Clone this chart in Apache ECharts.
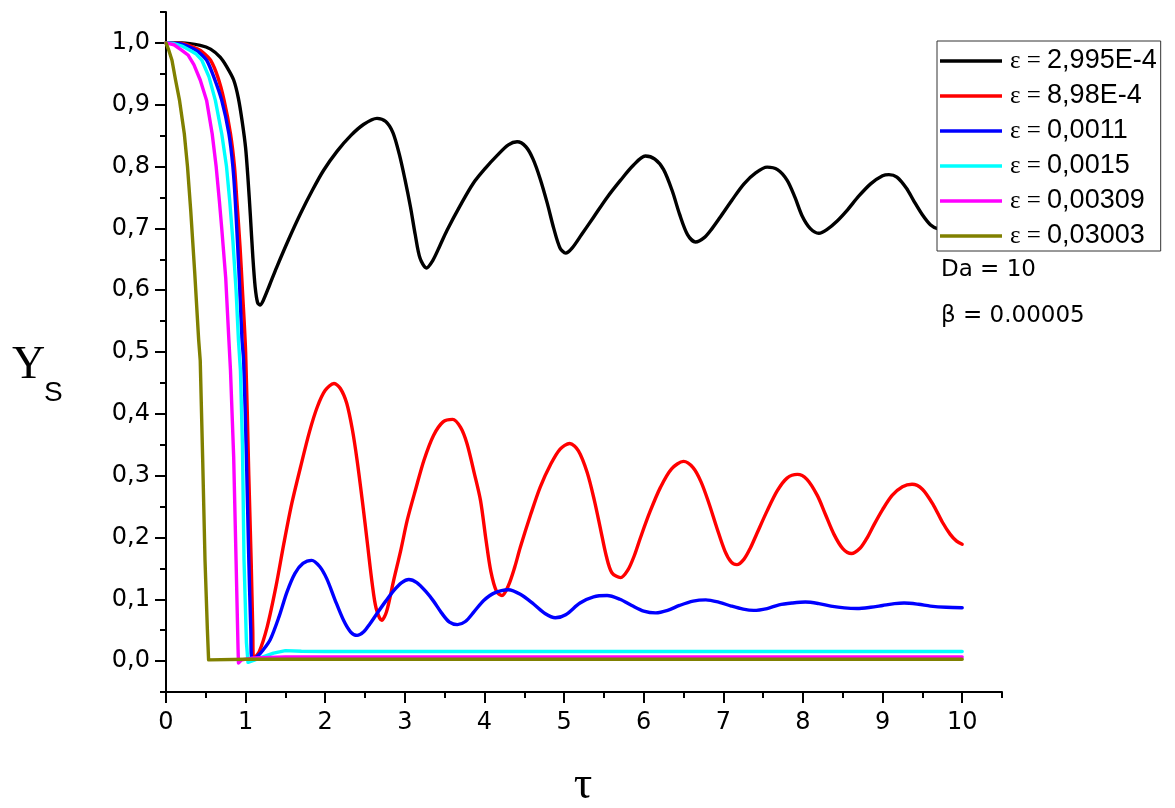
<!DOCTYPE html>
<html>
<head>
<meta charset="utf-8">
<script src="https://cdn.jsdelivr.net/npm/echarts@6/dist/echarts.min.js"></script>
<style>html,body{margin:0;padding:0;background:#fff}#c{width:1175px;height:808px}</style>
</head>
<body>
<div id="c"></div>
<script>
// ---- data ----
const xTicks = [0,1,2,3,4,5,6,7,8,9,10];
const xMinorTicks = [0.5,1.5,2.5,3.5,4.5,5.5,6.5,7.5,8.5,9.5,10.5];
const yTicks = [0,0.1,0.2,0.3,0.4,0.5,0.6,0.7,0.8,0.9,1.0];
const yMinorTicks = [-0.05,0.05,0.15,0.25,0.35,0.45,0.55,0.65,0.75,0.85,0.95,1.05];

const seriesNames = ['2,995E-4','8,98E-4','0,0011','0,0015','0,00309','0,03003'];
const seriesColors = ['#000000','#ff0000','#0000ff','#00ffff','#ff00ff','#808000'];

const tBlack = [0,0.2,0.43,0.56,0.68,0.76,0.85,0.91,0.96,1.0,1.03,1.06,1.09,1.12,1.15,1.18,1.22,1.30,1.39,1.54,1.69,1.84,1.98,2.15,2.32,2.48,2.65,2.76,2.85,2.93,3.0,3.07,3.13,3.19,3.27,3.35,3.44,3.53,3.70,3.86,4.01,4.16,4.30,4.41,4.52,4.61,4.70,4.79,4.87,4.95,5.02,5.10,5.22,5.37,5.54,5.71,5.87,6.02,6.14,6.25,6.36,6.45,6.55,6.65,6.76,6.86,6.96,7.11,7.26,7.41,7.55,7.68,7.80,7.90,7.99,8.09,8.20,8.30,8.43,8.56,8.70,8.85,9.0,9.08,9.18,9.30,9.39,9.50,9.60,9.70,9.80,9.9,10];
const yBlack = [1.0,1.0,0.996,0.99,0.977,0.962,0.94,0.91,0.87,0.83,0.78,0.72,0.655,0.605,0.58,0.576,0.583,0.608,0.637,0.682,0.724,0.762,0.794,0.825,0.85,0.868,0.878,0.873,0.855,0.82,0.78,0.735,0.69,0.652,0.636,0.648,0.672,0.697,0.738,0.773,0.797,0.818,0.835,0.840,0.832,0.812,0.78,0.74,0.70,0.668,0.660,0.668,0.69,0.718,0.75,0.778,0.802,0.817,0.812,0.795,0.76,0.723,0.69,0.678,0.685,0.70,0.718,0.746,0.772,0.79,0.799,0.795,0.778,0.75,0.72,0.70,0.692,0.698,0.712,0.73,0.752,0.772,0.785,0.787,0.783,0.765,0.745,0.722,0.706,0.699,0.698,0.702,0.708];

const tRed = [0,0.2,0.4,0.48,0.56,0.65,0.73,0.81,0.86,0.89,0.93,0.96,1.0,1.04,1.07,1.09,1.10,1.17,1.27,1.38,1.48,1.58,1.69,1.80,1.90,2.0,2.11,2.19,2.27,2.34,2.40,2.47,2.53,2.59,2.64,2.71,2.77,2.86,2.95,3.03,3.14,3.24,3.36,3.48,3.60,3.70,3.78,3.87,3.95,4.02,4.08,4.15,4.22,4.30,4.38,4.45,4.58,4.70,4.83,4.95,5.07,5.18,5.29,5.38,5.46,5.53,5.60,5.71,5.80,5.88,5.96,6.08,6.21,6.35,6.50,6.62,6.72,6.82,6.92,7.02,7.10,7.17,7.26,7.34,7.42,7.55,7.68,7.80,7.93,8.05,8.18,8.28,8.39,8.50,8.61,8.72,8.80,8.89,9.00,9.12,9.25,9.37,9.50,9.64,9.75,9.85,9.93,10];
const yRed = [1,0.999,0.99,0.983,0.972,0.945,0.907,0.853,0.80,0.745,0.67,0.60,0.50,0.30,0.16,0.05,0.004,0.015,0.055,0.12,0.19,0.255,0.314,0.37,0.411,0.438,0.449,0.441,0.417,0.375,0.325,0.255,0.19,0.125,0.085,0.066,0.08,0.131,0.18,0.228,0.28,0.325,0.365,0.387,0.391,0.378,0.352,0.305,0.26,0.195,0.145,0.113,0.106,0.122,0.152,0.184,0.237,0.2815,0.318,0.343,0.352,0.340,0.305,0.26,0.212,0.17,0.143,0.135,0.147,0.17,0.20,0.242,0.281,0.311,0.323,0.313,0.29,0.255,0.215,0.178,0.16,0.156,0.165,0.183,0.206,0.243,0.276,0.296,0.302,0.294,0.268,0.238,0.205,0.182,0.174,0.183,0.198,0.22,0.245,0.268,0.282,0.286,0.278,0.252,0.225,0.205,0.194,0.189];

const tBlue = [0,0.2,0.35,0.43,0.51,0.60,0.70,0.79,0.84,0.87,0.92,0.955,0.975,1.01,1.04,1.065,1.08,1.15,1.22,1.31,1.42,1.52,1.62,1.72,1.83,1.93,2.02,2.12,2.23,2.32,2.40,2.48,2.56,2.65,2.76,2.86,2.96,3.05,3.15,3.26,3.36,3.46,3.56,3.66,3.76,3.87,3.99,4.12,4.30,4.45,4.62,4.76,4.89,5.02,5.20,5.37,5.54,5.70,5.85,6.0,6.15,6.30,6.45,6.62,6.78,6.95,7.10,7.25,7.38,7.55,7.70,7.87,8.03,8.20,8.35,8.52,8.68,8.85,9.0,9.15,9.27,9.45,9.6,9.8,10];
const yBlue = [1,0.998,0.99,0.983,0.972,0.945,0.907,0.853,0.80,0.745,0.62,0.519,0.486,0.33,0.163,0.05,0.002,0.008,0.018,0.035,0.072,0.112,0.142,0.158,0.163,0.153,0.133,0.10,0.066,0.047,0.0416,0.047,0.06,0.077,0.097,0.114,0.127,0.132,0.127,0.113,0.097,0.078,0.063,0.059,0.064,0.08,0.098,0.11,0.1155,0.108,0.092,0.077,0.070,0.075,0.094,0.104,0.106,0.10,0.09,0.081,0.078,0.082,0.09,0.097,0.099,0.095,0.089,0.084,0.082,0.085,0.091,0.094,0.0955,0.093,0.089,0.086,0.085,0.087,0.09,0.093,0.094,0.092,0.089,0.087,0.0864];

const tCyan = [0,0.1,0.2,0.3,0.38,0.45,0.54,0.62,0.70,0.76,0.80,0.84,0.88,0.91,0.935,0.96,0.98,1.01,1.03,1.1,1.2,1.35,1.5,1.7,2.0,10];
const yCyan = [1,0.999,0.995,0.988,0.982,0.972,0.945,0.907,0.853,0.80,0.745,0.68,0.60,0.519,0.47,0.35,0.163,0.03,-0.002,0.001,0.006,0.013,0.017,0.016,0.0155,0.0155];

const tMagenta = [0,0.1,0.2,0.28,0.35,0.43,0.51,0.58,0.63,0.67,0.70,0.75,0.79,0.81,0.85,0.88,0.905,0.91,0.95,1.1,1.5,10];
const yMagenta = [1,0.997,0.988,0.98,0.965,0.94,0.907,0.853,0.80,0.745,0.70,0.62,0.519,0.47,0.33,0.163,0.02,-0.003,0.002,0.005,0.0065,0.0065];

const tOlive = [0,0.03,0.075,0.12,0.17,0.23,0.27,0.31,0.36,0.41,0.43,0.46,0.49,0.52,0.535,1.0,10];
const yOlive = [1,0.99,0.972,0.94,0.907,0.853,0.80,0.73,0.63,0.52,0.486,0.33,0.163,0.05,0.002,0.003,0.003];

const tData = [tBlack,tRed,tBlue,tCyan,tMagenta,tOlive];
const yData = [yBlack,yRed,yBlue,yCyan,yMagenta,yOlive];

// ---- chart ----
const chart = echarts.init(document.getElementById('c'), null, {renderer:'canvas'});
const SANS = "'Liberation Sans', Arial, sans-serif";
const WIDE = "'DejaVu Sans', sans-serif";
const SERIF = "'Liberation Serif', 'Times New Roman', serif";

const series = seriesNames.map((n,i)=>({
  name: n,
  type: 'line',
  data: tData[i].map((t,k)=>[t, yData[i][k]]),
  symbol: 'none',
  showSymbol: false,
  smooth: (i<3) ? 0.3 : false,
  lineStyle: {color: seriesColors[i], width: 3.4, join: 'round', cap: 'round'},
  itemStyle: {color: seriesColors[i]},
  z: 2 + i*0.01,
  animation: false
}));

const axisBase = {
  type: 'value', splitLine: {show:false}
};

chart.setOption({
  animation: false,
  backgroundColor: '#ffffff',
  grid: {left: 166, right: 173, top: 12, bottom: 116, containLabel: false},
  xAxis: [
    Object.assign({}, axisBase, {
      min: 0, max: 10.5, position: 'bottom',
      axisLine: {show:true, onZero:false, lineStyle:{color:'#000', width:2}},
      axisTick: {show:true, customValues: xTicks, length: 11, lineStyle:{color:'#000', width:2}},
      axisLabel: {show:true, customValues: xTicks, color:'#000', fontFamily: WIDE, fontSize: 24, margin: 19, formatter: v=>String(v)}
    }),
    Object.assign({}, axisBase, {
      min: 0, max: 10.5, position: 'bottom',
      axisLine: {show:false, onZero:false},
      axisTick: {show:true, customValues: xMinorTicks, length: 6, lineStyle:{color:'#000', width:2}},
      axisLabel: {show:false}
    })
  ],
  yAxis: [
    Object.assign({}, axisBase, {
      min: -0.05, max: 1.05, position: 'left',
      axisLine: {show:true, onZero:false, lineStyle:{color:'#000', width:2}},
      axisTick: {show:true, customValues: yTicks, length: 11, lineStyle:{color:'#000', width:2}},
      axisLabel: {show:true, customValues: yTicks, color:'#000', fontFamily: WIDE, fontSize: 24, margin: 16,
        formatter: v=>v.toFixed(1).replace('.', ',')}
    }),
    Object.assign({}, axisBase, {
      min: -0.05, max: 1.05, position: 'left',
      axisLine: {show:false, onZero:false},
      axisTick: {show:true, customValues: yMinorTicks, length: 6, lineStyle:{color:'#000', width:2}},
      axisLabel: {show:false}
    })
  ],
  legend: {
    show: true, orient: 'vertical', left: 937, top: 41,
    width: 227,
    padding: [5, 4, 0, 3],
    itemGap: 5,
    icon: 'rect',
    itemWidth: 62, itemHeight: 3.4,
    backgroundColor: '#ffffff', borderColor: '#333', borderWidth: 1,
    selectedMode: false,
    data: seriesNames,
    formatter: n => '{e|ε = }{n|' + n + '}',
    textStyle: {
      lineHeight: 30, padding: [0,0,0,3],
      rich: {
        e: {fontFamily: SERIF, fontSize: 25, color:'#000', lineHeight: 30},
        n: {fontFamily: SANS, fontSize: 27, color:'#000', lineHeight: 30}
      }
    },
    z: 10
  },
  graphic: [
    {type:'text', left: 941, top: 259, z: 20, style:{text:'Da = 10', font: "23px " + WIDE, fill:'#000'}},
    {type:'text', left: 941, top: 305, z: 20, style:{text:'β = 0.00005', font: "23px " + WIDE, fill:'#000'}},
    {type:'text', x: 12, y: 366, z: 20, style:{text:'Y', font: "46px " + SERIF, fill:'#000', verticalAlign:'middle', align:'left'}},
    {type:'text', x: 44, y: 393, z: 20, style:{text:'S', font: "28px " + SANS, fill:'#000', verticalAlign:'middle', align:'left'}},
    {type:'text', x: 583, y: 786, z: 20, style:{text:'τ', font: "46px " + SERIF, fill:'#000', verticalAlign:'middle', align:'center'}}
  ],
  series: series
});
</script>
</body>
</html>
